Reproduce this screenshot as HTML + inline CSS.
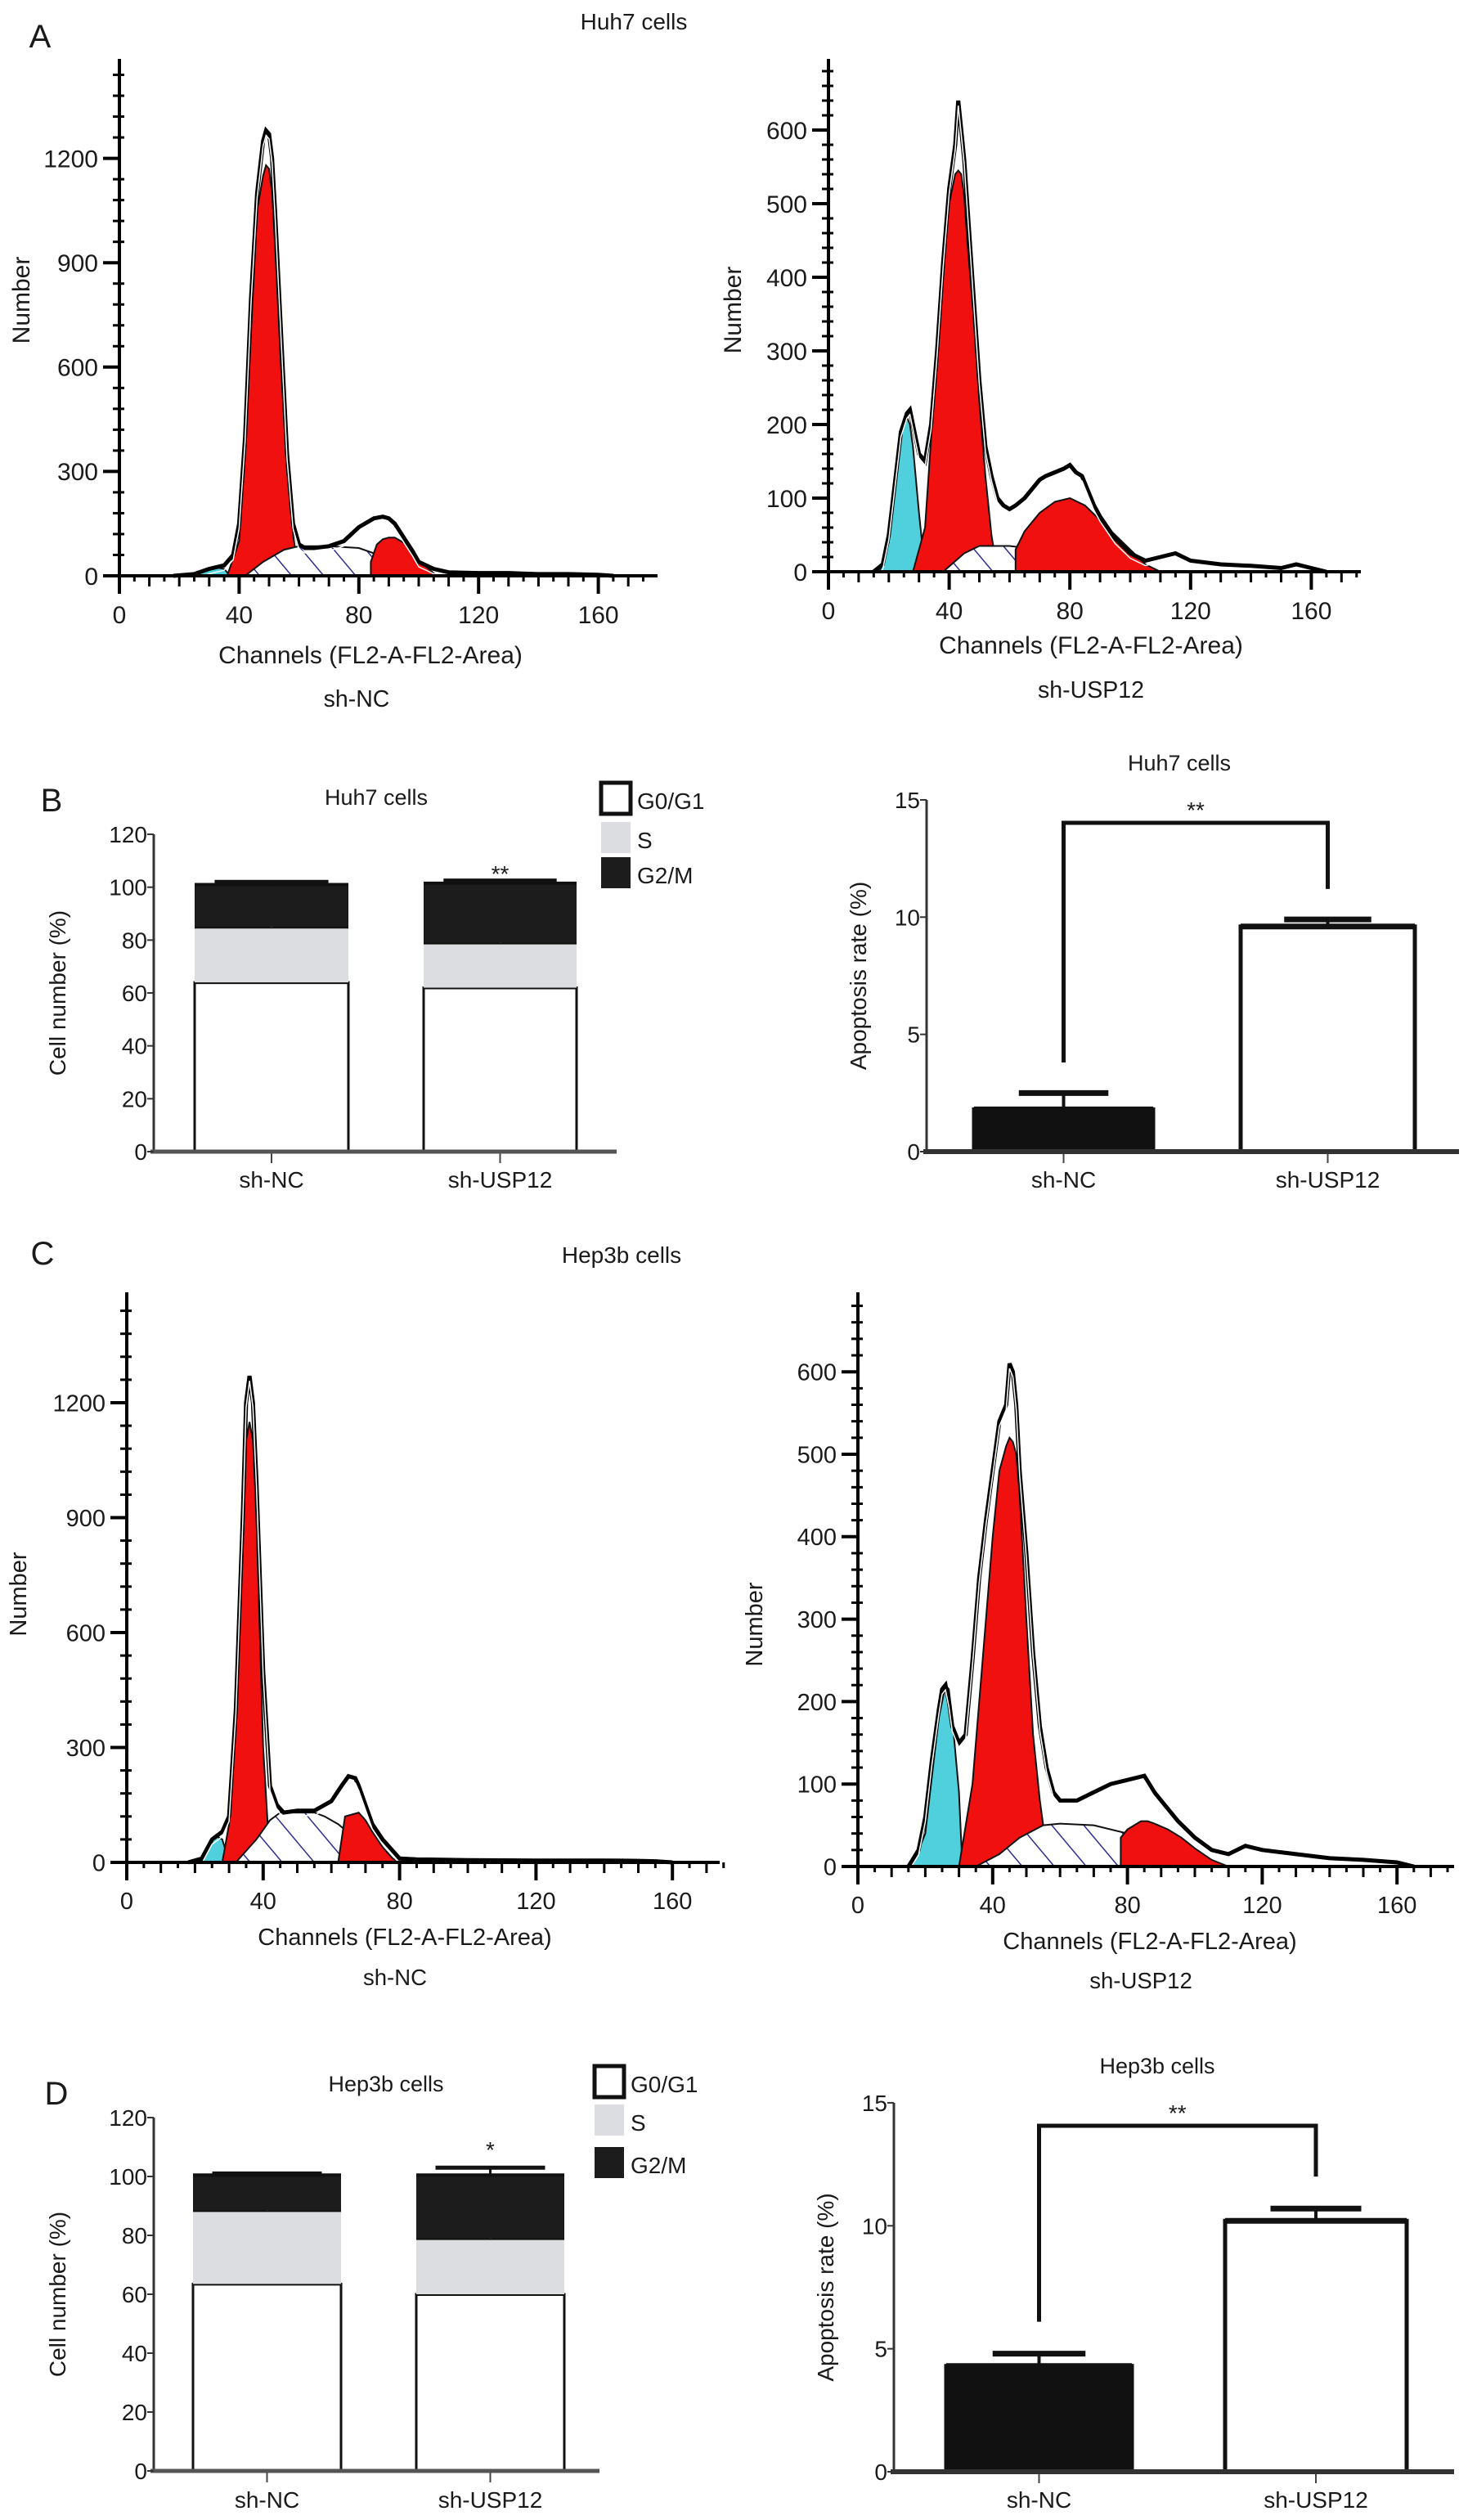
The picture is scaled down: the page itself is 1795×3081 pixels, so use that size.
<!DOCTYPE html>
<html><head><meta charset="utf-8"><style>
html,body{margin:0;padding:0;background:#fff}
svg{display:block}
text{font-family:"Liberation Sans",Arial,sans-serif;fill:#1a1a1a}
</style></head><body>
<svg id="fig" width="1795" height="3081" viewBox="0 0 1795 3081" xmlns="http://www.w3.org/2000/svg">
<defs>
<pattern id="hatch" patternUnits="userSpaceOnUse" width="30" height="30" patternTransform="rotate(-40)">
<rect width="30" height="30" fill="#fff"/><line x1="0" y1="0" x2="0" y2="30" stroke="#2b2f8f" stroke-width="3"/>
</pattern>
</defs>
<g id="root"></g>
</svg>
<script>
// ---------- Histogram data (channel, count) ----------
const aNC_envX=[18,25,30,35,38,40,42,44,46,48,49,50,51,52,54,56,58,60,62,65,70,75,80,85,88,90,92,95,98,100,105,110,120,130,140,150,160,165];
const aNC_envY=[0,5,20,30,60,150,400,800,1100,1250,1280,1270,1200,1050,700,350,150,90,80,80,85,100,140,165,170,165,150,110,70,40,20,10,8,8,5,5,3,0];
const aNC_g1X=[36,40,42,44,46,48,49,50,51,52,54,56,58,60];
const aNC_g1Y=[0,100,350,700,1050,1150,1180,1170,1100,950,600,300,120,0];
const aNC_g2X=[84,86,88,90,92,95,98,100,104,106];
const aNC_g2Y=[40,90,105,110,110,95,70,45,15,0];
const aNC_sX=[42,48,55,60,70,80,85,90,95,100];
const aNC_sY=[0,40,75,85,85,80,65,40,15,0];
const aNC_cX=[25,28,32,35,37];
const aNC_cY=[0,15,25,20,0];

const aSH_envX=[15,18,20,22,24,26,27,28,30,32,34,36,38,40,42,43,44,45,46,48,50,52,54,56,58,60,62,65,68,70,72,75,78,80,82,84,86,88,90,95,100,105,110,115,120,130,140,150,155,160,165];
const aSH_envY=[0,10,50,120,190,215,220,200,160,150,200,300,420,520,580,640,600,560,500,380,260,170,130,100,90,85,90,100,115,125,130,135,140,145,135,130,110,90,75,45,25,15,20,25,15,10,8,5,10,5,0];
const aSH_g1X=[28,32,36,38,40,42,43,44,45,46,48,50,52,54,56];
const aSH_g1Y=[0,60,300,420,500,540,545,540,510,450,350,230,130,50,0];
const aSH_g2X=[62,65,70,75,80,85,90,95,100,105,110];
const aSH_g2Y=[30,55,80,95,100,90,70,50,30,10,0];
const aSH_cX=[17,20,22,24,26,27,28,30,32];
const aSH_cY=[0,40,110,190,210,200,170,80,0];
const aSH_sX=[38,45,50,60,70,80,90,95];
const aSH_sY=[0,25,35,35,30,15,5,0];

const cNC_envX=[18,22,25,28,30,32,34,35,36,37,38,40,42,44,46,50,55,60,63,65,67,68,70,72,75,78,80,85,100,120,140,150,155,160];
const cNC_envY=[0,10,60,80,120,400,900,1200,1270,1200,1000,500,200,150,130,135,135,160,200,225,220,200,150,100,60,30,10,8,6,5,5,4,3,0];
const cNC_g1X=[28,30,32,34,35,36,37,38,40,42];
const cNC_g1Y=[0,100,400,800,1100,1150,1100,900,300,0];
const cNC_g2X=[62,64,68,70,72,75,78,80];
const cNC_g2Y=[0,120,130,110,80,40,10,0];
const cNC_sX=[32,38,42,45,50,55,58,62,66,70,75];
const cNC_sY=[0,60,110,130,130,130,120,100,70,30,0];
const cNC_cX=[22,24,26,28,30];
const cNC_cY=[0,40,70,60,0];

const cSH_envX=[15,18,20,22,24,25,26,27,28,30,32,34,36,38,40,42,44,45,46,47,48,50,52,54,56,58,60,65,70,75,80,85,88,90,95,100,105,110,115,120,130,140,150,160,165];
const cSH_envY=[0,20,60,130,190,215,220,200,170,150,160,250,350,420,480,540,560,610,600,560,480,380,260,170,120,90,80,80,90,100,105,110,90,80,55,35,20,15,25,20,15,10,8,5,0];
const cSH_g1X=[30,34,38,40,42,44,45,46,47,48,50,52,54,56,58];
const cSH_g1Y=[0,100,300,400,480,510,520,515,500,450,300,160,80,20,0];
const cSH_g2X=[78,80,84,86,88,92,96,100,105,110];
const cSH_g2Y=[35,45,55,55,52,45,35,22,8,0];
const cSH_cX=[16,20,22,24,26,27,28,30,31];
const cSH_cY=[0,40,110,180,220,215,180,90,0];
const cSH_sX=[35,42,48,55,60,70,80,86,90,95];
const cSH_sY=[0,15,35,50,52,50,40,20,8,0];

const xTicks=[0,40,80,120,160];
const yTicksBig=[0,300,600,900,1200];
const yTicksSmall=[0,100,200,300,400,500,600];

// ---------- Bar data ----------
const phaseNames=["G0/G1","S","G2/M"];
const groups=["sh-NC","sh-USP12"];
const bG0=[64,62], bS=[21,17], bG2=[16,22.5];
const bErrG0=[2,1.5], bErrS=[1,2], bErrG2=[1,1];
const dG0=[63.5,60], dS=[25,19], dG2=[12,21.5];
const dErrG0=[2,4], dErrS=[1.5,1], dErrG2=[0.5,2.5];
const stackTicks=[0,20,40,60,80,100,120];
const apoB=[1.8,9.6], apoBErr=[0.7,0.3];
const apoD=[4.3,10.2], apoDErr=[0.5,0.5];
const apoTicks=[0,5,10,15];

const NS="http://www.w3.org/2000/svg";
const root=document.getElementById('root');
function el(tag,attrs,parent){const e=document.createElementNS(NS,tag);for(const k in attrs)e.setAttribute(k,attrs[k]);(parent||root).appendChild(e);return e;}
function txt(s,x,y,size,anchor,parent,rot){const t=el('text',{x:x,y:y,'font-size':size,'text-anchor':anchor||'middle'},parent);if(rot)t.setAttribute('transform','rotate(-90 '+x+' '+y+')');t.textContent=s;return t;}

function hist(name,cfg,env,g1,g2,sp,cy){
  const g=el('g',{});
  
  
  const X=v=>cfg.ox+v*cfg.sx, Y=v=>cfg.oy-v*cfg.sy;
  function poly(xs,ys,fill,nm){
    let d='M'+X(xs[0])+','+cfg.oy;
    for(let i=0;i<xs.length;i++)d+=' L'+X(xs[i]).toFixed(1)+','+Y(ys[i]).toFixed(1);
    d+=' L'+X(xs[xs.length-1])+','+cfg.oy+' Z';
    const p=el('path',{d:d,fill:fill,stroke:'#111','stroke-width':2},g);
    
    
  }
  poly(cy[0],cy[1],'#4fd0dc','sub-g1-peak');
  poly(g1[0],g1[1],'#f01010','g1-peak');
  poly(sp[0],sp[1],'url(#hatch)','s-phase-area');
  poly(g2[0],g2[1],'#f01010','g2-peak');
  let d='';
  for(let i=0;i<env[0].length;i++)d+=(i?' L':'M')+X(env[0][i]).toFixed(1)+','+Y(env[1][i]).toFixed(1);
  const e1=el('path',{d:d,fill:'none',stroke:'#000','stroke-width':5},g);
  
  
  const e2=el('path',{d:d,fill:'none',stroke:'#fff','stroke-width':1.5,transform:'translate(0,6)'},g);
  
  
  // axes
  const ax=el('g',{stroke:'#000','stroke-width':4},g);
  
  
  el('line',{x1:cfg.ox,y1:cfg.top,x2:cfg.ox,y2:cfg.oy+18},ax);
  el('line',{x1:cfg.ox-18,y1:cfg.oy,x2:cfg.xend,y2:cfg.oy},ax);
  for(let v=0;v<=178;v+=5){const big=v%40===0, mid=v%10===0;el('line',{x1:X(v),y1:cfg.oy,x2:X(v),y2:cfg.oy+(big?22:mid?13:7),'stroke-width':big?4:3},ax);}
  for(let v=0;Y(v)>=cfg.top;v+=cfg.minor){const big=Math.abs(v%cfg.major)<1e-6;el('line',{x1:cfg.ox-(big?20:8),y1:Y(v),x2:cfg.ox+(big?0:6),y2:Y(v),'stroke-width':big?4:3},ax);}
  xTicks.forEach(v=>{const t=txt(String(v),X(v),cfg.oy+cfg.fs+28,cfg.fs,'middle',g);});
  cfg.yt.forEach(v=>{const t=txt(String(v),cfg.ox-26,Y(v)+cfg.fs*0.36,cfg.fs,'end',g);});
  const xl=txt('Channels (FL2-A-FL2-Area)',cfg.xlx,cfg.xly,cfg.fs,'middle',g);
  
  const sl=txt(cfg.sample,cfg.slx,cfg.sly,cfg.fs*0.95,'middle',g);
  
  const yl=txt('Number',cfg.ylx,cfg.yly,cfg.fs,'middle',g,true);
  
}

hist('hist-huh7-sh-nc',{ox:146,oy:704,sx:3.66,sy:127.6/300,top:72,xend:804,major:300,minor:60,yt:yTicksBig,fs:30,xlx:453,xly:811,slx:436,sly:864,ylx:36,yly:367,sample:'sh-NC'},
 [aNC_envX,aNC_envY],[aNC_g1X,aNC_g1Y],[aNC_g2X,aNC_g2Y],[aNC_sX,aNC_sY],[aNC_cX,aNC_cY]);
hist('hist-huh7-sh-usp12',{ox:1013,oy:699,sx:3.69,sy:0.9,top:72,xend:1664,major:100,minor:20,yt:yTicksSmall,fs:30,xlx:1334,xly:799,slx:1334,sly:853,ylx:906,yly:379,sample:'sh-USP12'},
 [aSH_envX,aSH_envY],[aSH_g1X,aSH_g1Y],[aSH_g2X,aSH_g2Y],[aSH_sX,aSH_sY],[aSH_cX,aSH_cY]);
hist('hist-hep3b-sh-nc',{ox:155,oy:2277,sx:4.17,sy:140.5/300,top:1580,xend:880,major:300,minor:60,yt:yTicksBig,fs:29,xlx:495,xly:2378,slx:483,sly:2427,ylx:32,yly:1949,sample:'sh-NC'},
 [cNC_envX,cNC_envY],[cNC_g1X,cNC_g1Y],[cNC_g2X,cNC_g2Y],[cNC_sX,cNC_sY],[cNC_cX,cNC_cY]);
hist('hist-hep3b-sh-usp12',{ox:1049,oy:2282,sx:4.12,sy:1.008,top:1580,xend:1778,major:100,minor:20,yt:yTicksSmall,fs:29,xlx:1406,xly:2383,slx:1395,sly:2431,ylx:932,yly:1986,sample:'sh-USP12'},
 [cSH_envX,cSH_envY],[cSH_g1X,cSH_g1Y],[cSH_g2X,cSH_g2Y],[cSH_sX,cSH_sY],[cSH_cX,cSH_cY]);

function stacked(name,cfg,g0,s,g2,e0,es,e2){
  const g=el('g',{});
  
  
  const Y=v=>cfg.oy-v*cfg.sy;
  const fills=['#ffffff','#dcdde0','#1c1c1c'];
  groups.forEach((gr,i)=>{
    const [x0,x1]=cfg.bars[i];const vals=[g0[i],s[i],g2[i]];const errs=[e0[i],es[i],e2[i]];
    let base=0;
    vals.forEach((v,k)=>{
      const r=el('rect',{x:x0,y:Y(base+v),width:x1-x0,height:v*cfg.sy,fill:fills[k],stroke:'#111','stroke-width':k===0?3:0},g);
      
      
      base+=v;
      const cx=(x0+x1)/2,w=(x1-x0)*0.37;
      const col=k===1?'#ffffff':'#111';
      el('line',{x1:x0,y1:Y(base),x2:x1,y2:Y(base),stroke:'#111','stroke-width':4},g);
      el('line',{x1:cx,y1:Y(base),x2:cx,y2:Y(base+errs[k]),stroke:col,'stroke-width':3},g);
      el('line',{x1:cx-w,y1:Y(base+errs[k]),x2:cx+w,y2:Y(base+errs[k]),stroke:k===1?'#ddd':'#111','stroke-width':5},g);
    });
    const lb=txt(gr,(x0+x1)/2,cfg.ly,28,'middle',g);
    
    el('line',{x1:(x0+x1)/2,y1:cfg.oy,x2:(x0+x1)/2,y2:cfg.oy+14,stroke:'#444','stroke-width':2},g);
  });
  el('line',{x1:cfg.ox,y1:Y(120),x2:cfg.ox,y2:cfg.oy,stroke:'#333','stroke-width':3},g);
  el('line',{x1:cfg.ox-4,y1:cfg.oy,x2:cfg.xend,y2:cfg.oy,stroke:'#555','stroke-width':5},g);
  stackTicks.forEach(v=>{el('line',{x1:cfg.ox-8,y1:Y(v),x2:cfg.ox,y2:Y(v),stroke:'#333','stroke-width':2},g);
    const t=txt(String(v),cfg.ox-8,Y(v)+10,28,'end',g);});
  const yl=txt('Cell number (%)',cfg.ox-108,(cfg.oy+Y(120))/2,28,'middle',g,true);
  
  const tt=txt(cfg.title,cfg.tx,cfg.ty,27,'middle',g);
  
  const st=txt(cfg.star,(cfg.bars[1][0]+cfg.bars[1][1])/2,cfg.stary,28,'middle',g);
  
  // legend
  phaseNames.forEach((p,k)=>{
    const y=cfg.legY[k];
    const r=el('rect',{x:cfg.legX,y:y-20,width:36,height:38,fill:fills[k],stroke:k===0?'#111':'none','stroke-width':5},g);
    
    const t=txt(p,cfg.legX+44,y+12,28,'start',g);
    
  });
}
stacked('stacked-huh7',{ox:188,oy:1408,sy:3.233,xend:754,bars:[[238,426],[518,705]],ly:1452,title:'Huh7 cells',tx:460,ty:984,star:'**',stary:1078,legX:735,legY:[977,1025,1068]},bG0,bS,bG2,bErrG0,bErrS,bErrG2);
stacked('stacked-hep3b',{ox:188,oy:3021,sy:3.6,xend:733,bars:[[236,417],[509,690]],ly:3066,title:'Hep3b cells',tx:472,ty:2557,star:'*',stary:2638,legX:727,legY:[2546,2593,2645]},dG0,dS,dG2,dErrG0,dErrS,dErrG2);

function apo(name,cfg,vals,errs){
  const g=el('g',{});
  
  
  const Y=v=>cfg.oy-v*cfg.sy;
  const fills=['#111','#fff'];
  groups.forEach((gr,i)=>{
    const [x0,x1]=cfg.bars[i];const cx=(x0+x1)/2,w=(x1-x0)*0.25;
    el('line',{x1:cx,y1:Y(vals[i]),x2:cx,y2:Y(vals[i]+errs[i]),stroke:'#111','stroke-width':4},g);
    el('line',{x1:cx-w,y1:Y(vals[i]+errs[i]),x2:cx+w,y2:Y(vals[i]+errs[i]),stroke:'#111','stroke-width':7},g);
    const r=el('rect',{x:x0,y:Y(vals[i]),width:x1-x0,height:vals[i]*cfg.sy,fill:fills[i],stroke:'#111','stroke-width':5},g);
    
    el('line',{x1:x0,y1:Y(vals[i]),x2:x1,y2:Y(vals[i]),stroke:'#111','stroke-width':7},g);
    const lb=txt(gr,cx,cfg.ly,28,'middle',g);
    
    el('line',{x1:cx,y1:cfg.oy,x2:cx,y2:cfg.oy+14,stroke:'#444','stroke-width':2},g);
  });
  el('line',{x1:cfg.ox,y1:Y(15),x2:cfg.ox,y2:cfg.oy,stroke:'#333','stroke-width':3},g);
  el('line',{x1:cfg.ox-4,y1:cfg.oy,x2:cfg.xend,y2:cfg.oy,stroke:'#333','stroke-width':6},g);
  apoTicks.forEach(v=>{el('line',{x1:cfg.ox-8,y1:Y(v),x2:cfg.ox,y2:Y(v),stroke:'#333','stroke-width':2},g);
    const t=txt(String(v),cfg.ox-8,Y(v)+10,28,'end',g);});
  const yl=txt('Apoptosis rate (%)',cfg.ox-74,(cfg.oy+Y(15))/2,28,'middle',g,true);
  
  const tt=txt(cfg.title,cfg.tx,cfg.ty,27,'middle',g);
  
  const c0=(cfg.bars[0][0]+cfg.bars[0][1])/2,c1=(cfg.bars[1][0]+cfg.bars[1][1])/2;
  const br=el('path',{d:'M'+c0+','+Y(vals[0]+errs[0]+1.3)+' L'+c0+','+cfg.by+' L'+c1+','+cfg.by+' L'+c1+','+Y(vals[1]+errs[1]+1.3),fill:'none',stroke:'#111','stroke-width':5},g);
  
  const st=txt('**',(c0+c1)/2,cfg.by-6,28,'middle',g);
  
}
apo('apoptosis-huh7',{ox:1133,oy:1408,sy:28.67,xend:1784,bars:[[1191,1410],[1517,1730]],ly:1452,title:'Huh7 cells',tx:1442,ty:942,by:1006},apoB,apoBErr);
apo('apoptosis-hep3b',{ox:1093,oy:3022,sy:30.07,xend:1778,bars:[[1157,1384],[1498,1720]],ly:3066,title:'Hep3b cells',tx:1415,ty:2535,by:2599},apoD,apoDErr);

// panel labels & titles
[['A',49,58],['B',63,992],['C',52,1546],['D',69,2573]].forEach(p=>{
  const t=txt(p[0],p[1],p[2],40,'middle');
  
  
});
const t1=txt('Huh7 cells',775,36,28,'middle');

const t2=txt('Hep3b cells',760,1544,28,'middle');

</script>
</body></html>
